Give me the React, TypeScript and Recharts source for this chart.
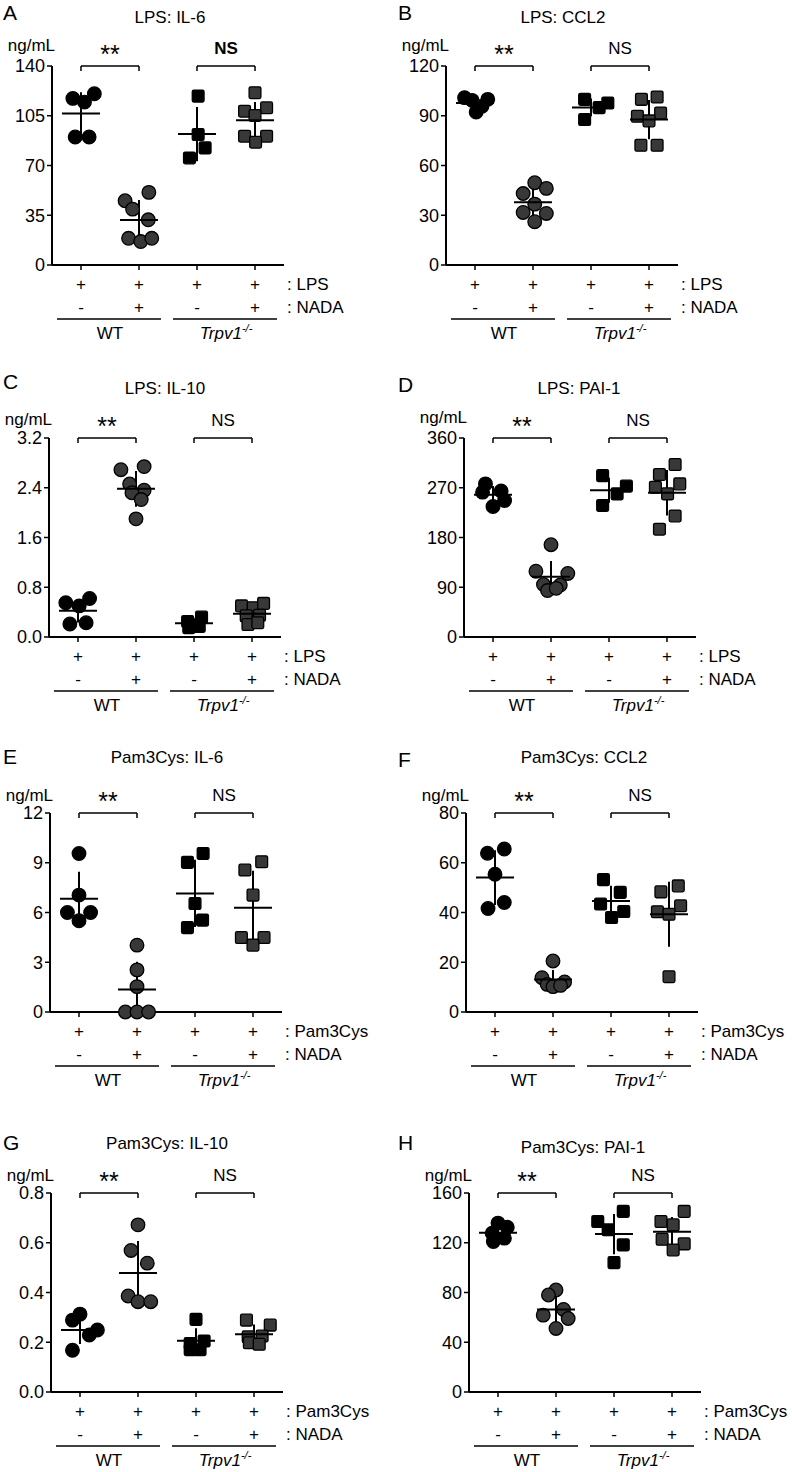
import React from 'react';
import { ScatterChart, Scatter, XAxis, YAxis, ErrorBar, ReferenceLine } from 'recharts';

const FONT = '"Liberation Sans", Arial, Helvetica, sans-serif';

// categories: WT -NADA, WT +NADA, Trpv1-/- -NADA, Trpv1-/- +NADA
const categories = [1, 2, 3, 4];
const nadaSigns = ['-', '+', '-', '+'];
const groupNames = ['WT', 'Trpv1'];
const sigLabels = ['**', 'NS'];

// A. LPS: IL-6
const lpsIl6 = [
  [117.2, 114.6, 120.5, 90.1, 90.1],
  [45.2, 39.3, 51.1, 31.8, 18.8, 16.5, 18.8],
  [118.8, 91.8, 82.4, 75.3],
  [121.2, 108.2, 110.6, 105.2, 90.6, 90.6, 86.4],
];
const lpsIl6Jitter = [
  [-0.14, 0.06, 0.23, -0.1, 0.14],
  [-0.24, -0.11, 0.17, 0.16, -0.18, 0.03, 0.22],
  [0.02, 0.02, 0.14, -0.13],
  [0, -0.18, 0.2, 0, -0.18, 0.2, 0.01],
];
const lpsIl6Ticks = [0, 35, 70, 105, 140];

// B. LPS: CCL2
const lpsCcl2 = [
  [100.9, 99.3, 99.9, 95.7, 92.3],
  [43.1, 49.6, 46.2, 36.7, 31.7, 31.1, 26.1],
  [99.9, 94.9, 97.7, 87.7],
  [99.9, 101.3, 91.7, 89.7, 86.9, 72.2, 72.2],
];
const lpsCcl2Jitter = [
  [-0.18, -0.05, 0.22, 0.12, 0.02],
  [-0.17, 0.03, 0.23, 0.03, -0.17, 0.23, 0.03],
  [-0.11, 0.14, 0.29, -0.11],
  [-0.13, 0.14, 0.2, -0.2, 0, -0.14, 0.14],
];
const lpsCcl2Ticks = [0, 30, 60, 90, 120];

// C. LPS: IL-10
const lpsIl10 = [
  [0.55, 0.5, 0.62, 0.21, 0.23],
  [2.69, 2.74, 2.46, 2.36, 2.32, 2.21, 1.9],
  [0.25, 0.32, 0.15, 0.17],
  [0.5, 0.47, 0.54, 0.34, 0.35, 0.2, 0.23],
];
const lpsIl10Jitter = [
  [-0.21, 0.02, 0.2, -0.14, 0.14],
  [-0.26, 0.14, -0.11, 0.14, -0.07, 0.09, 0],
  [-0.11, 0.13, -0.09, 0.09],
  [-0.18, 0.02, 0.2, -0.1, 0.13, -0.07, 0.1],
];
const lpsIl10Ticks = [0, 0.8, 1.6, 2.4, 3.2];

// D. LPS: PAI-1
const lpsPai1 = [
  [277, 262, 264, 247, 236],
  [167, 119, 115, 95, 94, 84, 88],
  [292, 273, 259, 238],
  [312, 294, 271, 277, 259, 219, 195],
];
const lpsPai1Jitter = [
  [-0.13, -0.18, 0.14, 0.2, 0],
  [0, -0.26, 0.29, -0.13, 0.16, -0.06, 0.09],
  [-0.11, 0.3, 0.14, -0.11],
  [0.14, -0.13, -0.2, 0.22, 0.01, 0.14, -0.13],
];
const lpsPai1Ticks = [0, 90, 180, 270, 360];

// E. Pam3Cys: IL-6
const pamIl6 = [
  [9.56, 7.05, 6.0, 6.0, 5.5],
  [4.03, 2.54, 1.53, 0, 0, 0],
  [9.56, 9.02, 6.54, 5.54, 5.09],
  [9.06, 8.56, 7.05, 4.49, 4.49, 4.03],
];
const pamIl6Jitter = [
  [0, 0, -0.2, 0.2, 0],
  [0, 0, 0, -0.2, 0, 0.2],
  [0.14, -0.13, 0, 0.13, -0.13],
  [0.15, -0.14, 0, -0.2, 0.19, 0],
];
const pamIl6Ticks = [0, 3, 6, 9, 12];

// F. Pam3Cys: CCL2
const pamCcl2 = [
  [63.8, 65.5, 55.4, 44.0, 41.6],
  [20.5, 13.8, 12.1, 11.1, 10.2, 10.7],
  [53.2, 48.1, 43.4, 40.4, 38.0],
  [50.7, 48.3, 42.7, 40.3, 39.3, 14.2],
];
const pamCcl2Jitter = [
  [-0.13, 0.16, 0, 0.16, -0.12],
  [0, -0.19, 0.2, -0.1, 0, 0.13],
  [-0.13, 0.16, -0.18, 0.22, 0.01],
  [0.16, -0.14, 0.2, -0.2, 0, 0],
];
const pamCcl2Ticks = [0, 20, 40, 60, 80];

// G. Pam3Cys: IL-10
const pamIl10 = [
  [0.313, 0.289, 0.249, 0.229, 0.168],
  [0.672, 0.569, 0.518, 0.386, 0.363, 0.363],
  [0.292, 0.205, 0.195, 0.17, 0.17],
  [0.289, 0.269, 0.225, 0.222, 0.198, 0.192],
];
const pamIl10Jitter = [
  [0, -0.13, 0.3, 0.16, -0.13],
  [0, -0.12, 0.16, -0.17, 0, 0.22],
  [0, 0.14, -0.1, -0.1, 0.07],
  [-0.13, 0.28, 0.14, -0.1, -0.08, 0.09],
];
const pamIl10Ticks = [0, 0.2, 0.4, 0.6, 0.8];

// H. Pam3Cys: PAI-1
const pamPai1 = [
  [135.8, 132.5, 127.7, 123.7, 121.0],
  [82.0, 78.0, 66.4, 61.8, 59.1, 51.1],
  [145.2, 137.1, 130.4, 118.3, 104.0],
  [145.2, 137.1, 134.4, 122.8, 119.1, 114.2],
];
const pamPai1Jitter = [
  [0, 0.16, -0.1, 0.11, -0.08],
  [0, -0.13, 0.13, -0.22, 0.21, 0],
  [0.16, -0.28, -0.1, 0.16, 0],
  [0.21, -0.19, 0.02, -0.17, 0.21, 0.02],
];
const pamPai1Ticks = [0, 40, 80, 120, 160];

const PLOT_W = 232;
const PLOT_H = 199;
const CHART_W = 396;
const CHART_H = 350;
const TOP = 66;
const STEP = PLOT_W / 4;

const GRAY = '#383838';

const mean = (a: number[]) => a.reduce((s, v) => s + v, 0) / a.length;
const sd = (a: number[]) => {
  const m = mean(a);
  return Math.sqrt(a.reduce((s, v) => s + (v - m) * (v - m), 0) / (a.length - 1));
};

const circleShape = (fill: string) => (p: any) => (
  <circle cx={p.cx} cy={p.cy} r={6.8} fill={fill} stroke="#000" strokeWidth={1.3} />
);
const squareShape = (fill: string) => (p: any) => (
  <rect x={p.cx - 5.9} y={p.cy - 5.9} width={11.8} height={11.8} rx={1.5} fill={fill} stroke="#000" strokeWidth={1.3} />
);
const meanShape = (p: any) => (
  <line x1={p.cx - 19} x2={p.cx + 19} y1={p.cy} y2={p.cy} stroke="#000" strokeWidth={2} />
);
const shapes = [circleShape('#000'), circleShape(GRAY), squareShape('#000'), squareShape(GRAY)];

const makeXTick = (stim: string) => (p: any) => {
  const { x, y, index } = p;
  const first = index % 2 === 0;
  return (
    <g fontFamily={FONT} fontSize={17}>
      <text x={x} y={y + 20} textAnchor="middle" fill="#000">+</text>
      <text x={x} y={y + 43} textAnchor="middle" fill="#000">{nadaSigns[index]}</text>
      {first && (
        <line x1={x - 24} x2={x + STEP + 22} y1={y + 49} y2={y + 49} stroke="#000" strokeWidth={1.5} />
      )}
      {first && index === 0 && (
        <text x={x + STEP / 2} y={y + 69} textAnchor="middle" fill="#000">{groupNames[0]}</text>
      )}
      {first && index === 2 && (
        <text x={x + STEP / 2} y={y + 69} textAnchor="middle" fontStyle="italic" fontSize={17} fill="#000">
          {groupNames[1]}
          <tspan dy={-7} fontSize={11}>-/-</tspan>
        </text>
      )}
      {index === 3 && (
        <>
          <text x={x + 32} y={y + 20} fill="#000">: {stim}</text>
          <text x={x + 32} y={y + 43} fill="#000">: NADA</text>
        </>
      )}
    </g>
  );
};

type PanelProps = {
  values: number[][];
  jitter: number[][];
  ticks: number[];
  decimals: number;
  stim: string;
  left: number;
  top: number;
  yw: number;
  nsBold?: boolean;
};

const Panel = ({ values, jitter, ticks, decimals, stim, left, top, yw, nsBold }: PanelProps) => {
  const max = ticks[ticks.length - 1];
  const leg = max * 0.025;
  const points = values.map((g, gi) => g.map((v, i) => ({ x: categories[gi] + jitter[gi][i], y: v })));
  const stats = values.map((g, gi) => {
    const m = mean(g);
    const s = sd(g);
    return { x: categories[gi], y: m, err: [Math.min(s, m), s] };
  });
  return (
    <div style={{ position: 'absolute', left, top }}>
      <ScatterChart
        width={CHART_W}
        height={CHART_H}
        margin={{ top: TOP, right: CHART_W - yw - PLOT_W, bottom: 0, left: 0 }}
      >
        <XAxis
          type="number"
          dataKey="x"
          domain={[0.5, 4.5]}
          ticks={categories}
          interval={0}
          height={CHART_H - TOP - PLOT_H}
          tickSize={5}
          tickMargin={0}
          axisLine={{ stroke: '#000', strokeWidth: 2 }}
          tickLine={{ stroke: '#000', strokeWidth: 1.5 }}
          tick={makeXTick(stim)}
        />
        <YAxis
          type="number"
          dataKey="y"
          domain={[0, max]}
          ticks={ticks}
          interval={0}
          width={yw}
          tickSize={5}
          tickMargin={2}
          axisLine={{ stroke: '#000', strokeWidth: 2 }}
          tickLine={{ stroke: '#000', strokeWidth: 1.5 }}
          tick={{ fill: '#000', fontSize: 18, fontFamily: FONT }}
          tickFormatter={(v: number) => v.toFixed(decimals)}
        />
        {[0, 1].map((k) => {
          const a = categories[k * 2];
          const b = categories[k * 2 + 1];
          return (
            <React.Fragment key={k}>
              <ReferenceLine
                segment={[{ x: a, y: max }, { x: b, y: max }]}
                stroke="#000"
                strokeWidth={1.5}
                label={{
                  value: sigLabels[k],
                  position: 'top',
                  offset: k === 0 ? 3 : 12,
                  fill: '#000',
                  fontSize: k === 0 ? 25 : 17,
                  fontFamily: FONT,
                  fontWeight: k === 1 && nsBold ? 'bold' : 'normal',
                }}
              />
              <ReferenceLine segment={[{ x: a, y: max }, { x: a, y: max - leg }]} stroke="#000" strokeWidth={1.5} />
              <ReferenceLine segment={[{ x: b, y: max }, { x: b, y: max - leg }]} stroke="#000" strokeWidth={1.5} />
            </React.Fragment>
          );
        })}
        {points.map((pts, gi) => (
          <Scatter key={gi} data={pts} shape={shapes[gi]} isAnimationActive={false} />
        ))}
        <Scatter data={stats} shape={meanShape} isAnimationActive={false}>
          <ErrorBar dataKey="err" direction="y" width={0} stroke="#000" strokeWidth={2} isAnimationActive={false} />
        </Scatter>
      </ScatterChart>
    </div>
  );
};

const panels = [
  { letter: 'A', title: 'LPS: IL-6', values: lpsIl6, jitter: lpsIl6Jitter, ticks: lpsIl6Ticks, decimals: 0, stim: 'LPS', left: 0, top: 0, yw: 52, nsBold: true, lx: 3, ly: 20, tx: 170, ty: 23, uy: 51 },
  { letter: 'B', title: 'LPS: CCL2', values: lpsCcl2, jitter: lpsCcl2Jitter, ticks: lpsCcl2Ticks, decimals: 0, stim: 'LPS', left: 396, top: 0, yw: 50, lx: 398, ly: 20, tx: 563, ty: 23, uy: 51 },
  { letter: 'C', title: 'LPS: IL-10', values: lpsIl10, jitter: lpsIl10Jitter, ticks: lpsIl10Ticks, decimals: 1, stim: 'LPS', left: 0, top: 372, yw: 49, lx: 3, ly: 389, tx: 165, ty: 394, uy: 425 },
  { letter: 'D', title: 'LPS: PAI-1', values: lpsPai1, jitter: lpsPai1Jitter, ticks: lpsPai1Ticks, decimals: 0, stim: 'LPS', left: 396, top: 372, yw: 68, lx: 398, ly: 392, tx: 579, ty: 394, uy: 423 },
  { letter: 'E', title: 'Pam3Cys: IL-6', values: pamIl6, jitter: pamIl6Jitter, ticks: pamIl6Ticks, decimals: 0, stim: 'Pam3Cys', left: 0, top: 747, yw: 50, lx: 3, ly: 764, tx: 167, ty: 763, uy: 801 },
  { letter: 'F', title: 'Pam3Cys: CCL2', values: pamCcl2, jitter: pamCcl2Jitter, ticks: pamCcl2Ticks, decimals: 0, stim: 'Pam3Cys', left: 396, top: 747, yw: 70, lx: 398, ly: 767, tx: 584, ty: 763, uy: 801 },
  { letter: 'G', title: 'Pam3Cys: IL-10', values: pamIl10, jitter: pamIl10Jitter, ticks: pamIl10Ticks, decimals: 1, stim: 'Pam3Cys', left: 0, top: 1127, yw: 51, lx: 3, ly: 1150, tx: 167, ty: 1149, uy: 1181 },
  { letter: 'H', title: 'Pam3Cys: PAI-1', values: pamPai1, jitter: pamPai1Jitter, ticks: pamPai1Ticks, decimals: 0, stim: 'Pam3Cys', left: 396, top: 1127, yw: 73, lx: 398, ly: 1150, tx: 583, ty: 1153, uy: 1181 },
];

export default function App() {
  return (
    <div style={{ position: 'absolute', left: 0, top: 0, width: 792, height: 1472, overflow: 'hidden', background: '#fff' }}>
      {panels.map((p) => (
        <Panel
          key={p.letter}
          values={p.values}
          jitter={p.jitter}
          ticks={p.ticks}
          decimals={p.decimals}
          stim={p.stim}
          left={p.left}
          top={p.top}
          yw={p.yw}
          nsBold={p.nsBold}
        />
      ))}
      <svg width={792} height={1472} style={{ position: 'absolute', left: 0, top: 0, pointerEvents: 'none' }} fontFamily={FONT} fill="#000">
        {panels.map((p) => (
          <g key={p.letter}>
            <text x={p.lx} y={p.ly} fontSize={21}>{p.letter}</text>
            <text x={p.tx} y={p.ty} fontSize={17} textAnchor="middle">{p.title}</text>
            <text x={p.left + p.yw + 3} y={p.uy} fontSize={17} textAnchor="end">ng/mL</text>
          </g>
        ))}
      </svg>
    </div>
  );
}
